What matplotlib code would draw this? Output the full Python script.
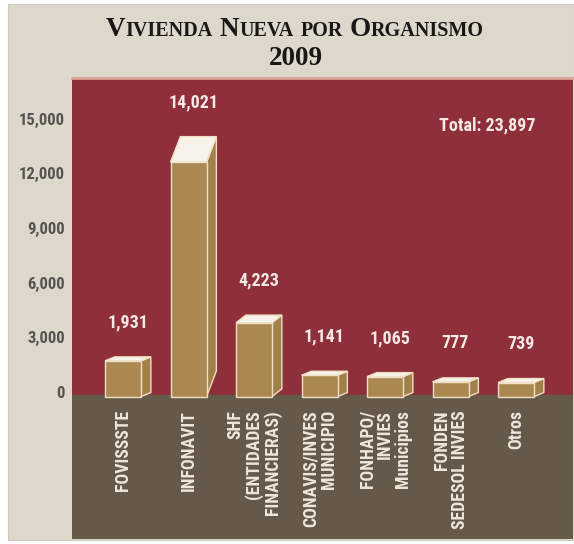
import numpy as np
import matplotlib.pyplot as plt
from matplotlib.patches import Polygon, Rectangle
from matplotlib.transforms import IdentityTransform
from matplotlib import font_manager

# datos de la grafica
categorias = ["FOVISSSTE", "INFONAVIT", "SHF\n(ENTIDADES\nFINANCIERAS)",
              "CONAVIS/INVES\nMUNICIPIO", "FONHAPO/\nINVIES\nMunicipios",
              "FONDEN\nSEDESOL INVIES", "Otros"]
viviendas = [1931, 14021, 4223, 1141, 1065, 777, 739]
total = 23897
yticks = [0, 3000, 6000, 9000, 12000, 15000]

# colores
BEIGE = "#ded7cc"
ROJO = "#8e2f39"
CAFE = "#655949"
TAN = "#ab8852"
TAN_LADO = "#a28049"
TAPA = "#f7f2ea"
BORDE = "#efe0c6"

# fuente angosta: la primera que exista
nombres = {f.name for f in font_manager.fontManager.ttflist}
angosta = dict(family="DejaVu Sans", stretch="condensed")
for fam in ["Roboto Condensed", "Liberation Sans Narrow", "PT Sans Narrow"]:
    if fam in nombres:
        angosta = dict(family=fam)
        break

W, H = 574, 544
fig = plt.figure(figsize=(W / 100, H / 100), dpi=100)
fig.patch.set_facecolor("white")
fig.patches.append(Rectangle((8 / W, 4 / H), 566 / W, 536 / H, transform=fig.transFigure,
                             facecolor=BEIGE, edgecolor="#cfc9c0", lw=0.8, zorder=-5))

ax = fig.add_axes([72 / W, 5 / H, 501 / W, 461 / H])
ax.set_facecolor(ROJO)
ymin, ymax = -8070, 17240
ax.set_xlim(-0.779, 6.870)
ax.set_ylim(ymin, ymax)
ax.axhspan(ymin, -165, color=CAFE, zorder=1)
ax.axhline(ymax, color="#dba295", lw=2, clip_on=False, zorder=5)
for s in ax.spines.values():
    s.set_visible(False)
ax.set_xticks([])
ax.set_yticks(yticks)
ax.set_yticklabels([f"{v:,}" for v in yticks])
ax.tick_params(axis="y", length=0, pad=5, labelcolor="#57534f")
for lbl in ax.get_yticklabels():
    lbl.set_fontsize(12)
    lbl.set_fontweight("bold")
    lbl.set_fontfamily(angosta["family"])
    if "stretch" in angosta:
        lbl.set_fontstretch(angosta["stretch"])

# barras en 3D
w = 0.55
dx = 0.15
base = -250
for i, v in enumerate(viviendas):
    dy = max(0.1 * v, 220)
    ft = v - dy
    x0, x1 = i - w / 2, i + w / 2
    ax.add_patch(Polygon([(x1, base), (x1, ft), (x1 + dx, ft + dy), (x1 + dx, base + dy)],
                         facecolor=TAN_LADO, edgecolor=BORDE, lw=1, zorder=3))
    ax.add_patch(Rectangle((x0, base), w, ft - base, facecolor=TAN, edgecolor=BORDE,
                           lw=1, zorder=3))
    ax.add_patch(Polygon([(x0, ft), (x1, ft), (x1 + dx, ft + dy), (x0 + dx, ft + dy)],
                         facecolor=TAPA, edgecolor=BORDE, lw=1, zorder=4))
    ax.text(i + dx / 2, v + 1900, f"{v:,}", ha="center", va="center", color="#f4e9e4",
            fontsize=13, fontweight="bold", **angosta)
    ax.text(i, -990, categorias[i], rotation=90, ha="center", va="top",
            multialignment="right", linespacing=1.0, color="#eee7dc",
            fontsize=12.8, fontweight="bold", **angosta)

ax.text(0.828, 0.898, f"Total: {total:,}", transform=ax.transAxes, ha="center",
        va="center", color="#f4e9e4", fontsize=13, fontweight="bold", **angosta)

# titulo en versalitas
renderer = fig.canvas.get_renderer()
palabras = [("V", "IVIENDA"), ("N", "UEVA"), ("", "POR"), ("O", "RGANISMO")]
grande, chica = 19.5, 14.5
espacio = 7
piezas = []
for gr, ch in palabras:
    for txt, size in ((gr, grande), (ch, chica)):
        if txt:
            t = fig.text(0, 0, txt, transform=IdentityTransform(), fontsize=size,
                         family="Liberation Serif", fontweight="bold", color="#1a1715",
                         va="baseline", ha="left")
            piezas.append((t, t.get_window_extent(renderer).width))
    piezas.append((None, espacio))
piezas = piezas[:-1]
ancho = sum(p[1] for p in piezas)
x = 295 - ancho / 2
for t, wd in piezas:
    if t is not None:
        t.set_position((x, H - 36))
    x += wd

fig.text(296 / W, 1 - 65 / H, "2009", ha="center", va="baseline", fontsize=19.5,
         family="Liberation Serif", fontweight="bold", color="#1a1715")

fig.savefig("out.png", dpi=100, facecolor=fig.get_facecolor())
